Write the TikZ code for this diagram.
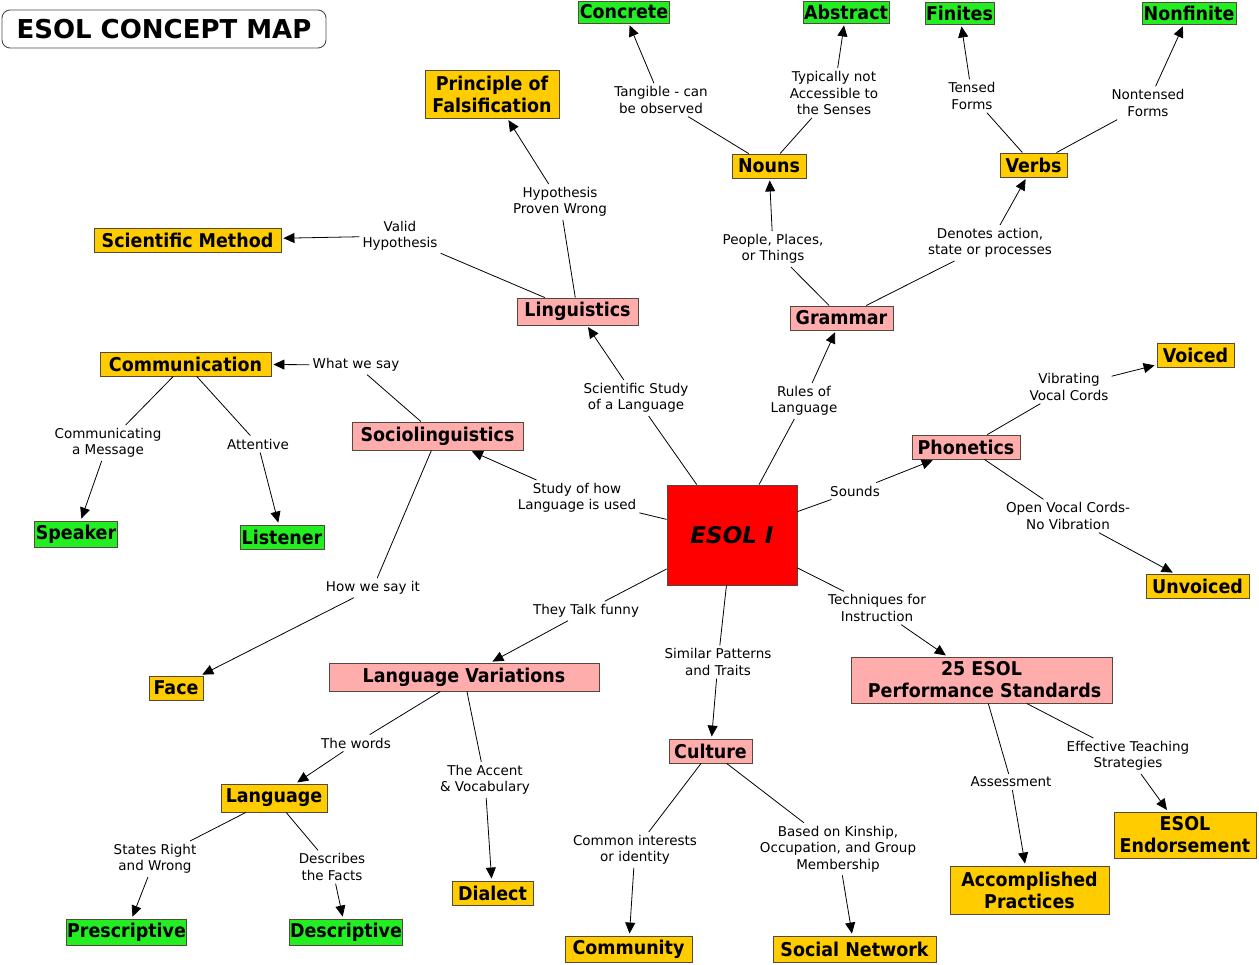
\documentclass[tikz,border=0pt]{standalone}
\usepackage{fontspec}
\setmainfont{DejaVu Sans}
\newfontfamily\cmapnodefont{DejaVu Sans}[FakeStretch=0.92]
\usetikzlibrary{arrows.meta}
\definecolor{cgreen}{RGB}{34,238,34}
\definecolor{corange}{RGB}{255,204,0}
\definecolor{cpink}{RGB}{255,172,172}
\definecolor{cred}{RGB}{255,0,0}
\definecolor{cborder}{RGB}{85,72,60}
\newcommand\cmaplink[3]{\draw[ln] (#1) -- (#2); \draw[ln,arr] (#2) -- (#3);}
\begin{document}
\begin{tikzpicture}[x=1pt,y=-1pt,
  concept/.style={draw=cborder, line width=0.9pt, font=\cmapnodefont\bfseries\fontsize{19}{22}\selectfont, align=center, inner sep=1pt},
  sz/.style 2 args={minimum width=#1, minimum height=#2},
  gnode/.style={concept, fill=cgreen},
  onode/.style={concept, fill=corange},
  pnode/.style={concept, fill=cpink},
  lab/.style={font=\fontsize{13.5}{16.5}\selectfont, align=center, inner sep=3pt},
  ln/.style={draw=black, line width=0.8pt},
  arr/.style={-{Triangle[length=11pt,width=10pt]}, shorten >=2pt}
]
\useasboundingbox (0,0) rectangle (1259,965);

% title
\node[draw=black!70, line width=0.9pt, rounded corners=8pt, fill=white, sz={324pt}{38pt},
  font=\bfseries\fontsize{26}{30}\selectfont, inner sep=0pt] (title) at (164,29) {ESOL CONCEPT MAP};

% concepts
\node[draw=cborder, line width=0.9pt, fill=cred, sz={130pt}{100pt}, font=\bfseries\itshape\fontsize{23}{26}\selectfont] (esol) at (732,535) {ESOL I};

\node[gnode, sz={90pt}{22pt}] (concrete) at (624,12) {Concrete};
\node[gnode, sz={84pt}{22pt}] (abstract) at (846,12) {Abstract};
\node[gnode, sz={65pt}{22pt}] (finites) at (959.5,13) {Finites};
\node[gnode, sz={94pt}{22pt}] (nonfinite) at (1189,13) {Nonfinite};
\node[onode, sz={134pt}{48pt}] (falsif) at (492,94) {Principle of\\Falsification};
\node[onode, sz={74pt}{24pt}] (nouns) at (769,166) {Nouns};
\node[onode, sz={67pt}{24pt}] (verbs) at (1033.5,165) {Verbs};
\node[onode, sz={187pt}{24pt}] (scimethod) at (187.5,240) {Scientific Method};
\node[pnode, sz={121pt}{27pt}] (linguistics) at (577.5,311.5) {Linguistics};
\node[pnode, sz={103pt}{24pt}] (grammar) at (841.5,318) {Grammar};
\node[onode, sz={171pt}{24pt}] (communication) at (185.5,364) {Communication};
\node[onode, sz={77pt}{24pt}] (voiced) at (1195.5,355) {Voiced};
\node[pnode, sz={171pt}{28pt}] (socio) at (437.5,436) {Sociolinguistics};
\node[pnode, sz={108pt}{24pt}] (phonetics) at (966,447) {Phonetics};
\node[gnode, sz={82pt}{26pt}] (speaker) at (76,534) {Speaker};
\node[gnode, sz={84pt}{24pt}] (listener) at (282,537) {Listener};
\node[onode, sz={103pt}{24pt}] (unvoiced) at (1197.5,586) {Unvoiced};
\node[onode, sz={54pt}{24pt}] (face) at (176,688) {Face};
\node[pnode, sz={270pt}{28pt}] (langvar) at (464,677) {Language Variations};
\node[pnode, sz={261pt}{46pt}] (standards) at (981.5,680) {25 ESOL\\\ Performance Standards};
\node[pnode, sz={83pt}{24pt}] (culture) at (710.5,751) {Culture};
\node[onode, sz={106pt}{28pt}] (language) at (274,798) {Language};
\node[onode, sz={81pt}{24pt}] (dialect) at (492.5,893) {Dialect};
\node[onode, sz={142pt}{46pt}] (endorsement) at (1185,835) {ESOL\\Endorsement};
\node[onode, sz={159pt}{48pt}] (accomplished) at (1029.5,890) {Accomplished\\Practices};
\node[gnode, sz={119pt}{26pt}] (prescriptive) at (126.5,932) {Prescriptive};
\node[gnode, sz={112pt}{26pt}] (descriptive) at (346,932) {Descriptive};
\node[onode, sz={127pt}{26pt}] (community) at (628.5,949) {Community};
\node[onode, sz={163pt}{26pt}] (socialnet) at (854.5,949) {Social Network};

% linking phrases
\node[lab] (l_tangible) at (661,100) {Tangible - can\\be observed};
\node[lab] (l_typically) at (834,93) {Typically not\\Accessible to\\the Senses};
\node[lab] (l_tensed) at (972,96) {Tensed\\Forms};
\node[lab] (l_nontensed) at (1148,103) {Nontensed\\Forms};
\node[lab] (l_hypwrong) at (560,202) {Hypothesis\\Proven Wrong};
\node[lab] (l_valid) at (400,236) {Valid\\Hypothesis};
\node[lab] (l_people) at (773,249) {People, Places,\\or Things};
\node[lab] (l_denotes) at (990,243) {Denotes action,\\state or processes};
\node[lab] (l_whatwesay) at (356,365) {What we say};
\node[lab] (l_scistudy) at (636,398) {Scientific Study\\of a Language};
\node[lab] (l_rules) at (804,401) {Rules of\\Language};
\node[lab] (l_vibrating) at (1069,387) {Vibrating\\Vocal Cords};
\node[lab] (l_communicating) at (108,443) {Communicating\\a Message};
\node[lab] (l_attentive) at (258,444) {Attentive};
\node[lab] (l_studyhow) at (577,498) {Study of how\\Language is used};
\node[lab] (l_sounds) at (855,491) {Sounds};
\node[lab] (l_open) at (1068,516) {Open Vocal Cords-\\No Vibration};
\node[lab] (l_howwesay) at (373,588) {How we say it};
\node[lab] (l_talkfunny) at (586,611) {They Talk funny};
\node[lab] (l_techniques) at (877,608) {Techniques for\\Instruction};
\node[lab] (l_similar) at (718,662) {Similar Patterns\\and Traits};
\node[lab] (l_words) at (356,743) {The words};
\node[lab] (l_accent) at (485,780) {The Accent\\\& Vocabulary};
\node[lab] (l_effective) at (1128,756) {Effective Teaching\\Strategies};
\node[lab] (l_assessment) at (1011,782) {Assessment};
\node[lab] (l_states) at (155,859) {States Right\\and Wrong};
\node[lab] (l_describes) at (332,867) {Describes\\the Facts};
\node[lab] (l_common) at (635,850) {Common interests\\or identity};
\node[lab] (l_kinship) at (838,849) {Based on Kinship,\\Occupation, and Group\\Membership};

% connections
\cmaplink{esol}{l_scistudy}{linguistics}
\cmaplink{esol}{l_rules}{grammar}
\cmaplink{esol}{l_studyhow}{socio}
\cmaplink{esol}{l_sounds}{phonetics}
\cmaplink{esol}{l_talkfunny}{langvar}
\cmaplink{esol}{l_similar}{culture}
\cmaplink{esol}{l_techniques}{standards}
\cmaplink{linguistics}{l_valid}{scimethod}
\cmaplink{linguistics}{l_hypwrong}{falsif}
\cmaplink{grammar}{l_people}{nouns}
\cmaplink{grammar}{l_denotes}{verbs}
\cmaplink{nouns}{l_tangible}{concrete}
\cmaplink{nouns}{l_typically}{abstract}
\cmaplink{verbs}{l_tensed}{finites}
\cmaplink{verbs}{l_nontensed}{nonfinite}
\cmaplink{socio}{l_whatwesay}{communication}
\cmaplink{socio}{l_howwesay}{face}
\cmaplink{communication}{l_communicating}{speaker}
\cmaplink{communication}{l_attentive}{listener}
\cmaplink{phonetics}{l_vibrating}{voiced}
\cmaplink{phonetics}{l_open}{unvoiced}
\cmaplink{langvar}{l_words}{language}
\cmaplink{langvar}{l_accent}{dialect}
\cmaplink{language}{l_states}{prescriptive}
\cmaplink{language}{l_describes}{descriptive}
\cmaplink{culture}{l_common}{community}
\cmaplink{culture}{l_kinship}{socialnet}
\cmaplink{standards}{l_assessment}{accomplished}
\cmaplink{standards}{l_effective}{endorsement}
\end{tikzpicture}
\end{document}
